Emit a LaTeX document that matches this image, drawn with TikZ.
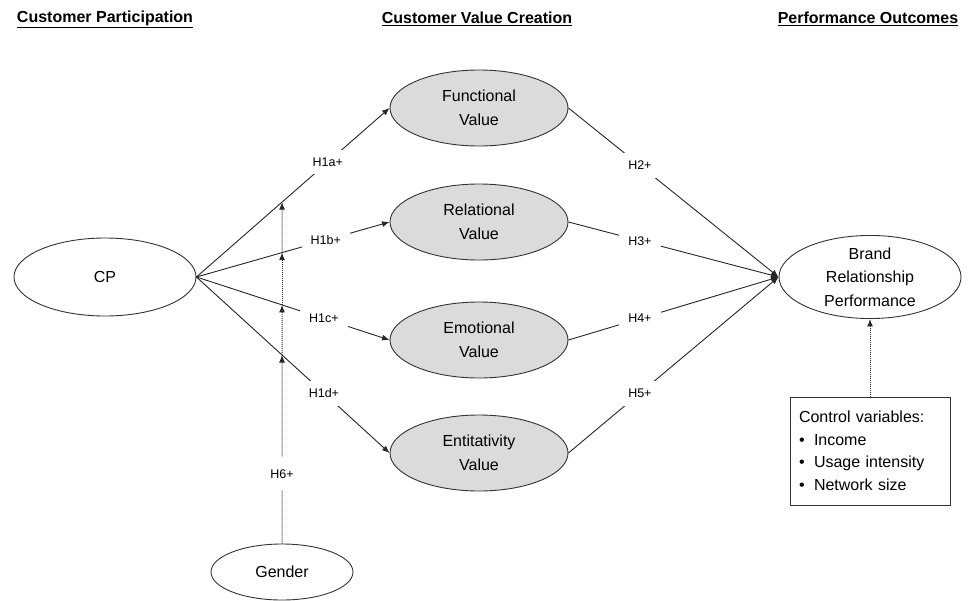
\documentclass[tikz,border=0pt]{standalone}
\usepackage{fontspec}
\setmainfont{Liberation Sans}
\usetikzlibrary{shapes.geometric,arrows.meta}
\begin{document}
\begin{tikzpicture}[x=1pt,y=-1pt,
  lat/.style={draw=black!80,line width=0.9pt,ellipse,inner sep=0pt,
    minimum width=182pt,minimum height=78pt,align=center,
    font=\fontsize{16}{23.5}\selectfont},
  valnode/.style={lat,fill=black!14,minimum width=178pt,minimum height=76pt},
  hyp/.style={fill=white,inner xsep=9pt,inner ysep=8pt,
    font=\fontsize{12.5}{14}\selectfont},
  hypv/.style={hyp,inner xsep=4pt,inner ysep=12pt},
  conn/.style={draw=black!85,line width=0.9pt},
  tip/.style={-{Latex[length=7.5pt,width=6pt]}},
  arr/.style={conn,tip},
  dots/.style={draw=black!85,line width=1pt,densely dotted,tip},
  ttl/.style={font=\bfseries\fontsize{16}{18}\selectfont,inner sep=0pt}
]
\useasboundingbox (0,0) rectangle (968,600);

% titles
\node[ttl] (t1) at (105,19) {\underline{Customer Participation}};
\node[ttl] (t2) at (477,19) {\underline{Customer Value Creation}};
\node[ttl] (t3) at (868,19) {\underline{Performance Outcomes}};

% nodes
\node[lat] (cp) at (105,277) {CP};
\node[valnode] (f) at (479,108) {Functional\\Value};
\node[valnode] (r) at (479,222) {Relational\\Value};
\node[valnode] (e) at (479,340) {Emotional\\Value};
\node[valnode] (v) at (479,453) {Entitativity\\Value};
\node[lat] (b) at (870,277) {Brand\\Relationship\\Performance};
\node[lat,minimum width=142pt,minimum height=56pt] (g) at (282,572) {Gender};
\node[draw=black!80,line width=0.9pt,rectangle,minimum width=160pt,minimum height=108pt,
  align=left,text width=142pt,inner sep=0pt,
  font=\fontsize{16}{22.5}\selectfont] (cv) at (870,451)
  {Control variables:\\
   \makebox[15pt][l]{\textbullet}Income\\
   \makebox[15pt][l]{\textbullet}Usage intensity\\
   \makebox[15pt][l]{\textbullet}Network size};

% H1 paths
\draw[arr] (cp.east) -- node[hyp,pos=0.68]{H1a+} (f.west);
\draw[arr] (cp.east) -- node[hyp,pos=0.67]{H1b+} (r.west);
\draw[arr] (cp.east) -- node[hyp,pos=0.66]{H1c+} (e.west);
\draw[arr] (cp.east) -- node[hyp,pos=0.66]{H1d+} (v.west);

% H2-H5
\draw[arr] (f.east) -- node[hyp,pos=0.34]{H2+} (b.west);
\draw[arr] (r.east) -- node[hyp,pos=0.34]{H3+} (b.west);
\draw[arr] (e.east) -- node[hyp,pos=0.34]{H4+} (b.west);
\draw[arr] (v.east) -- node[hyp,pos=0.34]{H5+} (b.west);

% moderation by gender
\coordinate (gtop) at (282,0);
\coordinate (ia) at (intersection of cp.east--f.west and g.north--gtop);
\coordinate (ib) at (intersection of cp.east--r.west and g.north--gtop);
\coordinate (ic) at (intersection of cp.east--e.west and g.north--gtop);
\coordinate (id) at (intersection of cp.east--v.west and g.north--gtop);
\draw[dots] (g.north) -- node[hypv,pos=0.37]{H6+} (id);
\draw[dots] (id) -- (ic);
\draw[dots] (ic) -- (ib);
\draw[dots] (ib) -- (ia);

% control variables
\draw[dots] (cv.north) -- (b.south);
\end{tikzpicture}
\end{document}
